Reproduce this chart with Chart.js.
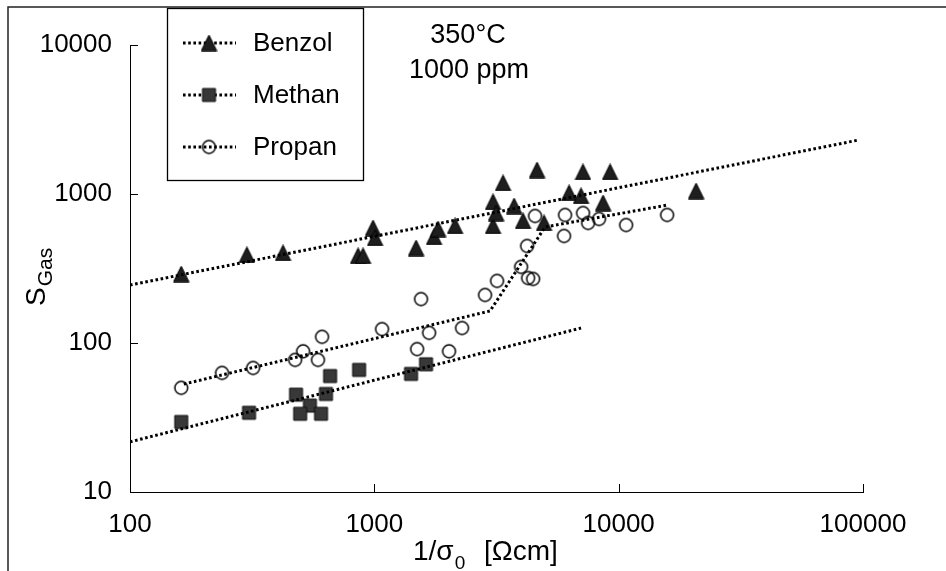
<!DOCTYPE html>
<html>
<head>
<meta charset="utf-8">
<title>S Gas vs 1/sigma0</title>
<script src="https://cdn.jsdelivr.net/npm/chart.js@4.4.0/dist/chart.umd.min.js"></script>
<style>
    html, body { margin: 0; padding: 0; background: #fff; }
    #wrap { width: 946px; height: 571px; }
</style>
</head>
<body>
<div id="wrap"><canvas id="sgasChart" width="946" height="571"></canvas></div>
<script>
const xTicks = [100, 1000, 10000, 100000];
const yTicks = [10, 100, 1000, 10000];

// measured points, 350 °C, 1000 ppm
const benzolX = [162, 301, 423, 858, 899, 988, 1007, 1482, 1755, 1823, 2140, 3061, 3061, 3148, 3364, 3733, 4060, 4634, 4950, 6268, 7015, 7145, 8635, 9226, 20750];
const benzolY = [290, 390, 402, 384, 384, 591, 507, 434, 515, 582, 610, 884, 610, 745, 1186, 830, 659, 1449, 639, 1016, 970, 1405, 870, 1405, 1047];

const methanX = [162, 307, 478, 545, 497, 605, 634, 659, 866, 1413, 1628];
const methanY = [29.5, 34, 45, 38, 33.5, 33.5, 45.5, 60, 66, 62, 72];

const propanX = [162, 238, 319, 474, 511, 588, 611, 1075, 1496, 1553, 1675, 2022, 2285, 2839, 3179, 3986, 4218, 4258, 4465, 4547, 6034, 5977, 7147, 7498, 8312, 10723, 15784];
const propanY = [50, 63, 68, 77, 88, 77, 110, 124, 91, 197, 117, 88, 126, 210, 261, 324, 448, 273, 269, 712, 723, 523, 745, 639, 680, 619, 723];

// dotted trend lines
const benzolFitX = [100, 95500];
const benzolFitY = [245, 2300];
const methanFitX = [100, 7015];
const methanFitY = [21.7, 126];
const propanFitX = [166, 2976, 5000, 15920];
const propanFitY = [53, 164, 601, 844];

const FONT = '"Liberation Sans", Arial, Helvetica, sans-serif';
const DOTS = [2.6, 2.6];
const DOT_WIDTH = 3;

function pts(xs, ys) {
    return xs.map((x, i) => ({ x: x, y: ys[i] }));
}

function makeMarker(kind) {
    const c = document.createElement("canvas");
    c.width = 17;
    c.height = 17;
    const g = c.getContext("2d");
    g.beginPath();
    if (kind === "triangle") {
        g.moveTo(8.5, 0.6);
        g.lineTo(16.2, 16.2);
        g.lineTo(0.8, 16.2);
        g.closePath();
        g.fillStyle = "#1e1e1e";
        g.fill();
        g.strokeStyle = "#000";
        g.lineWidth = 1;
        g.stroke();
    } else if (kind === "square") {
        g.rect(2, 2, 13, 13);
        g.fillStyle = "#383838";
        g.fill();
        g.strokeStyle = "#111";
        g.lineWidth = 1;
        g.stroke();
    } else {
        g.arc(8.5, 8.5, 6.4, 0, Math.PI * 2);
        g.strokeStyle = "#000";
        g.lineWidth = 1.5;
        g.stroke();
    }
    return c;
}

const triangleMark = makeMarker("triangle");
const squareMark = makeMarker("square");
const circleMark = makeMarker("circle");

const legendItems = [
    { label: "Benzol", mark: triangleMark, y: 43 },
    { label: "Methan", mark: squareMark, y: 95 },
    { label: "Propan", mark: circleMark, y: 147 }
];

function fitLine(xs, ys) {
    return {
        data: pts(xs, ys),
        showLine: true,
        pointRadius: 0,
        borderColor: "#000",
        borderWidth: DOT_WIDTH,
        borderDash: DOTS,
        tension: 0,
        fill: false
    };
}

function markers(xs, ys, mark) {
    return {
        data: pts(xs, ys),
        showLine: false,
        pointStyle: mark,
        pointRadius: 7
    };
}

// frame, inward ticks, legend box, notes and axis titles
const decorations = {
    id: "decorations",
    afterDraw(chart) {
        const ctx = chart.ctx;
        const xs = chart.scales.x;
        const ys = chart.scales.y;
        const area = chart.chartArea;
        ctx.save();

        ctx.strokeStyle = "#222";
        ctx.lineWidth = 1.5;
        ctx.beginPath();
        ctx.moveTo(8, 571);
        ctx.lineTo(8, 7);
        ctx.lineTo(946, 7);
        ctx.stroke();

        ctx.strokeStyle = "#000";
        ctx.lineWidth = 1;
        ctx.beginPath();
        xTicks.slice(1).forEach(v => {
            const px = Math.round(xs.getPixelForValue(v)) + 0.5;
            ctx.moveTo(px, area.bottom);
            ctx.lineTo(px, area.bottom - 8);
        });
        yTicks.slice(1).forEach(v => {
            const py = Math.round(ys.getPixelForValue(v)) + 0.5;
            ctx.moveTo(area.left, py);
            ctx.lineTo(area.left + 8, py);
        });
        ctx.stroke();

        ctx.lineWidth = 1.3;
        ctx.strokeRect(167.5, 8.5, 196, 172);
        legendItems.forEach(item => {
            ctx.save();
            ctx.setLineDash(DOTS);
            ctx.lineWidth = DOT_WIDTH;
            ctx.strokeStyle = "#000";
            ctx.beginPath();
            ctx.moveTo(183, item.y);
            ctx.lineTo(236, item.y);
            ctx.stroke();
            ctx.restore();
            ctx.drawImage(item.mark, 209 - 8.5, item.y - 8.5);
            ctx.fillStyle = "#000";
            ctx.font = "26px " + FONT;
            ctx.textAlign = "left";
            ctx.textBaseline = "middle";
            ctx.fillText(item.label, 253, item.y + 1);
        });

        ctx.fillStyle = "#000";
        ctx.textBaseline = "alphabetic";
        ctx.textAlign = "center";
        ctx.font = "27px " + FONT;
        ctx.fillText("350°C", 468, 43);
        ctx.fillText("1000 ppm", 469, 78);

        // x title: 1/σ0 [Ωcm]
        ctx.textAlign = "left";
        ctx.font = "28px " + FONT;
        ctx.fillText("1/σ", 413, 560);
        const w1 = ctx.measureText("1/σ").width;
        ctx.font = "19px " + FONT;
        ctx.fillText("0", 413 + w1 + 1, 569);
        ctx.font = "28px " + FONT;
        ctx.fillText("[Ωcm]", 484, 560);

        // y title: S with subscript Gas
        ctx.save();
        ctx.translate(45, 306);
        ctx.rotate(-Math.PI / 2);
        ctx.font = "28px " + FONT;
        ctx.fillText("S", 0, 0);
        const ws = ctx.measureText("S").width;
        ctx.font = "21px " + FONT;
        ctx.fillText("Gas", ws + 1, 7);
        ctx.restore();

        ctx.restore();
    }
};

const tickFont = { family: FONT, size: 26 };

new Chart(document.getElementById("sgasChart"), {
    type: "scatter",
    data: {
        datasets: [
            fitLine(benzolFitX, benzolFitY),
            fitLine(methanFitX, methanFitY),
            fitLine(propanFitX, propanFitY),
            markers(benzolX, benzolY, triangleMark),
            markers(methanX, methanY, squareMark),
            markers(propanX, propanY, circleMark)
        ]
    },
    options: {
        responsive: false,
        animation: false,
        layout: { padding: { top: 45, right: 83, left: 0, bottom: 0 } },
        plugins: {
            legend: { display: false },
            tooltip: { enabled: false }
        },
        scales: {
            x: {
                type: "logarithmic",
                min: 100,
                max: 100000,
                afterBuildTicks: s => { s.ticks = xTicks.map(v => ({ value: v })); },
                afterFit: s => { s.height = 79; },
                grid: { display: false },
                border: { display: true, color: "#000", width: 1 },
                ticks: {
                    autoSkip: false,
                    maxRotation: 0,
                    padding: 9,
                    color: "#000",
                    font: tickFont,
                    callback: v => String(v)
                }
            },
            y: {
                type: "logarithmic",
                min: 10,
                max: 10000,
                afterBuildTicks: s => { s.ticks = yTicks.map(v => ({ value: v })); },
                afterFit: s => { s.width = 130; },
                grid: { display: false },
                border: { display: true, color: "#000", width: 1 },
                ticks: {
                    autoSkip: false,
                    padding: 10,
                    color: "#000",
                    font: tickFont,
                    callback: v => String(v)
                }
            }
        }
    },
    plugins: [decorations]
});
</script>
</body>
</html>
